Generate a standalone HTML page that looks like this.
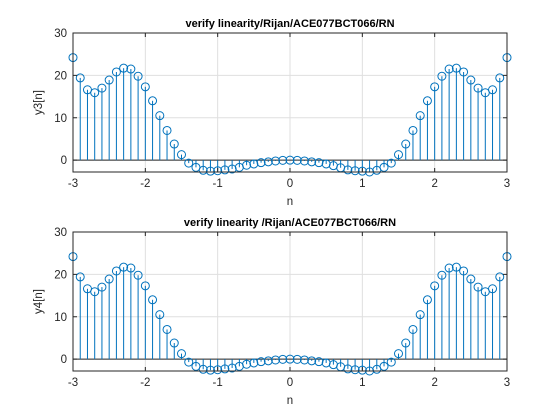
<!DOCTYPE html>
<html><head><meta charset="utf-8"><style>
body{margin:0;background:#fff;}
svg{display:block;font-family:"Liberation Sans",Arial,sans-serif;}
</style></head><body>
<svg id="fig" width="560" height="420" viewBox="0 0 560 420"></svg>
<script>
const nValues = [-3,-2.9,-2.8,-2.7,-2.6,-2.5,-2.4,-2.3,-2.2,-2.1,-2,-1.9,-1.8,-1.7,-1.6,-1.5,-1.4,-1.3,-1.2,-1.1,-1,-0.9,-0.8,-0.7,-0.6,-0.5,-0.4,-0.3,-0.2,-0.1,0,0.1,0.2,0.3,0.4,0.5,0.6,0.7,0.8,0.9,1,1.1,1.2,1.3,1.4,1.5,1.6,1.7,1.8,1.9,2,2.1,2.2,2.3,2.4,2.5,2.6,2.7,2.8,2.9,3];
const y3Values = [24.2,19.4,16.6,15.9,17.0,18.9,20.8,21.7,21.5,19.8,17.3,14.0,10.5,7.0,3.8,1.3,-0.7,-1.7,-2.4,-2.6,-2.5,-2.3,-2.1,-1.7,-1.2,-0.9,-0.6,-0.4,-0.2,-0.05,0,-0.05,-0.2,-0.4,-0.6,-0.9,-1.3,-1.8,-2.3,-2.5,-2.6,-2.8,-2.4,-1.7,-0.7,1.3,3.8,7.0,10.5,14.0,17.3,19.8,21.5,21.7,20.8,18.9,17.0,15.9,16.6,19.4,24.2];
const y4Values = y3Values.slice();
const xTicks = [-3,-2,-1,0,1,2,3];
const yTicks = [0,10,20,30];
const NS = "http://www.w3.org/2000/svg";
const svg = document.getElementById('fig');
function mk(tag, attrs, parent){const e=document.createElementNS(NS,tag);for(const k in attrs)e.setAttribute(k,attrs[k]);(parent||svg).appendChild(e);return e;}
function drawPanel(top, bottom, vals, title, ylabel, key){
  const L=73, R=507, ymin=-2.8, ymax=30;
  const g=mk('g',{});
  
  
  const xs=v=>L+(v+3)/6*(R-L);
  const ys=v=>bottom-(v-ymin)/(ymax-ymin)*(bottom-top);
  mk('rect',{x:L,y:top,width:R-L,height:bottom-top,fill:'#fff'},g);
  xTicks.forEach(t=>{mk('line',{x1:xs(t),x2:xs(t),y1:top,y2:bottom,stroke:'#dfdfdf','stroke-width':1},g);});
  yTicks.forEach(t=>{mk('line',{x1:L,x2:R,y1:ys(t),y2:ys(t),stroke:'#dfdfdf','stroke-width':1},g);});
  mk('line',{x1:L,x2:R,y1:ys(0),y2:ys(0),stroke:'#262626','stroke-width':1},g);
  nValues.forEach((n,i)=>{
    const v=vals[i];
    const s=mk('line',{x1:xs(n),x2:xs(n),y1:ys(0),y2:ys(v),stroke:'#0072bd','stroke-width':1},g);
    
    
    const c=mk('circle',{cx:xs(n),cy:ys(v),r:4,fill:'none',stroke:'#0072bd','stroke-width':1},g);
    
    
  });
  mk('rect',{x:L,y:top,width:R-L,height:bottom-top,fill:'none',stroke:'#262626','stroke-width':1},g);
  xTicks.forEach(t=>{
    mk('line',{x1:xs(t),x2:xs(t),y1:bottom,y2:bottom-4,stroke:'#262626'},g);
    mk('line',{x1:xs(t),x2:xs(t),y1:top,y2:top+4,stroke:'#262626'},g);
    const tx=mk('text',{x:xs(t),y:bottom+15,'text-anchor':'middle','font-size':11.5,fill:'#262626'},g);
    tx.textContent=t;
    
    
  });
  yTicks.forEach(t=>{
    mk('line',{x1:L,x2:L+4,y1:ys(t),y2:ys(t),stroke:'#262626'},g);
    mk('line',{x1:R,x2:R-4,y1:ys(t),y2:ys(t),stroke:'#262626'},g);
    const tx=mk('text',{x:L-6,y:ys(t)+4,'text-anchor':'end','font-size':11.5,fill:'#262626'},g);
    tx.textContent=t;
    
    
  });
  const ti=mk('text',{x:(L+R)/2,y:top-6,'text-anchor':'middle','font-size':11,'font-weight':'bold',fill:'#000'},g);
  ti.textContent=title;
  
  
  const xl=mk('text',{x:(L+R)/2,y:bottom+33,'text-anchor':'middle','font-size':11.5,fill:'#262626'},g);
  xl.textContent='n';
  
  
  const cy=(top+bottom)/2;
  const yl=mk('text',{x:42,y:cy,'text-anchor':'middle','font-size':11.5,fill:'#262626',transform:`rotate(-90 42 ${cy})`},g);
  yl.textContent=ylabel;
  
  
}
drawPanel(33,172,y3Values,'verify linearity/Rijan/ACE077BCT066/RN','y3[n]','top');
drawPanel(232,371,y4Values,'verify linearity /Rijan/ACE077BCT066/RN','y4[n]','bottom');
</script>
</body></html>
